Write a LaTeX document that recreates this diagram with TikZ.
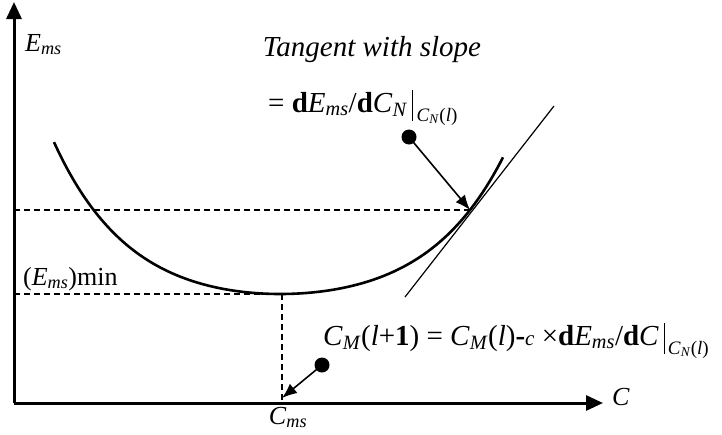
\documentclass[tikz,border=0pt]{standalone}
\usepackage{fontspec}
\setmainfont{Liberation Serif}
\usetikzlibrary{arrows.meta}
\newcommand{\evalat}{\rule[-9pt]{1.1pt}{31pt}\raisebox{-9pt}{\fontsize{19}{20}\selectfont\,\textit{C}\textsubscript{\textit{N}}(\textit{l})}}
\tikzset{
  axisline/.style={line width=3pt, -{Triangle[length=17pt,width=15pt]}},
  curveline/.style={line width=2.6pt},
  guide/.style={line width=1.1pt, dash pattern=on 6pt off 4pt},
  tangentline/.style={line width=1.2pt},
  pointer/.style={line width=1.6pt, -{Latex[length=15pt,width=12pt]}},
  blackdot/.style={circle, fill=black, inner sep=0pt, minimum size=15pt},
  lbl/.style={inner sep=0pt, font=\fontsize{26}{30}\selectfont},
  biglbl/.style={inner sep=0pt, font=\fontsize{29}{34}\selectfont}
}
\begin{document}
\begin{tikzpicture}[x=1pt,y=-1pt]
\useasboundingbox (0,0) rectangle (722,434);
% key points
\coordinate (O) at (14,403);
\coordinate (Ytop) at (14,2);
\coordinate (Xend) at (603,403);
\coordinate (T) at (470,210);
\coordinate (Mn) at (282,294);
\coordinate (Ty) at (14,210);
\coordinate (My) at (14,294);
\coordinate (Mx) at (282,403);
\coordinate (Tlo) at (405,297);
\coordinate (Thi) at (554,106);
\coordinate (Cms) at (282,398);
% axes
\draw[axisline] (O) -- (Ytop);
\draw[axisline] (O) -- (Xend);
% guides
\draw[guide] (Ty) -- (T);
\draw[guide] (My) -- (Mn);
\draw[guide] (Mn) -- (Mx);
% curve
\draw[curveline] plot[domain=-226:223, samples=120, smooth] ({280+\x},{294-18*(cosh(\x/(\x<0?77:78.5))-1)});
% tangent
\draw[tangentline] (Tlo) -- (Thi);
% dots and pointers
\node[blackdot] (d1) at (409,137) {};
\node[blackdot] (d2) at (322,365) {};
\draw[pointer] (d1.center) -- (T);
\draw[pointer] (d2.center) -- (Cms);
% labels
\node[lbl, anchor=base west] (ey) at (25,51) {\textit{E}\textsubscript{\textit{ms}}};
\node[lbl, anchor=base west] (cx) at (612,405) {\textit{C}};
\node[lbl, anchor=base] (cms) at (288,424) {\textit{C}\textsubscript{\textit{ms}}};
\node[lbl, anchor=base west] (emin) at (23,285) {(\textit{E}\textsubscript{\textit{ms}})min};
\node[biglbl, anchor=base] (tw) at (372,56) {\textit{Tangent with slope}};
\node[biglbl, anchor=base west] (sl) at (268,112) {= \textbf{d}\textit{E}\textsubscript{\textit{ms}}/\textbf{d}\textit{C}\textsubscript{\textit{N}}\,\evalat};
\node[biglbl, anchor=base west] (upd) at (323,345) {\textit{C}\textsubscript{\textit{M}}(\textit{l}+\textbf{1}) = \textit{C}\textsubscript{\textit{M}}(\textit{l})\textbf{-}{\fontsize{21}{24}\selectfont\textit{c}} ×\textbf{d}\textit{E}\textsubscript{\textit{ms}}/\textbf{d}\textit{C}\,\evalat};
\end{tikzpicture}
\end{document}
